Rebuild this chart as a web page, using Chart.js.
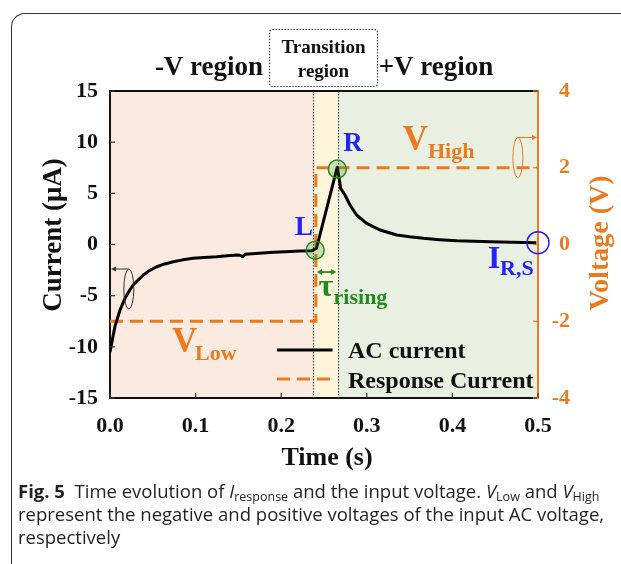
<!DOCTYPE html>
<html>
<head>
<meta charset="utf-8">
<script src="https://cdn.jsdelivr.net/npm/chart.js@4.4.1/dist/chart.umd.min.js"></script>
<style>
  html, body { margin: 0; padding: 0; background: #fff; }
  #wrap { position: relative; width: 621px; height: 564px; overflow: hidden; }
  #card { position: absolute; left: 11px; top: 13px; width: 700px; height: 700px;
          border-top: 1.5px solid #333; border-left: 1.5px solid #333; border-top-left-radius: 14px; }
  #chart { position: absolute; left: 0; top: 0; }
  #caption { position: absolute; left: 18px; top: 479px; width: 603px; white-space: nowrap;
             font-family: "Open Sans", "Noto Sans", sans-serif; font-size: 18.5px; line-height: 23px; color: #231f20; }
  #caption sub { font-size: 12.5px; line-height: 0; vertical-align: -3px; }
</style>
</head>
<body>
<div id="wrap">
  <div id="card"></div>
  <canvas id="chart" width="621" height="564"></canvas>
  <div id="caption"><b>Fig. 5</b>&nbsp; Time evolution of <i>I</i><sub>response</sub> and the input voltage. <i>V</i><sub>Low</sub> and <i>V</i><sub>High</sub><br>represent the negative and positive voltages of the input AC voltage,<br>respectively</div>
</div>
<script>
// AC current (time in s, current in uA)
const timeS = [0, 0.0058, 0.0117, 0.0175, 0.022, 0.027, 0.033, 0.039, 0.046, 0.0545, 0.064, 0.074, 0.085,
  0.097, 0.11, 0.1245, 0.137, 0.148, 0.152, 0.155, 0.158, 0.17, 0.191, 0.205, 0.222, 0.236,
  0.2412, 0.2655, 0.268, 0.2694, 0.2745, 0.2804, 0.288, 0.2998, 0.3154, 0.335, 0.35, 0.366,
  0.385, 0.405, 0.425, 0.444, 0.47, 0.498];
const currentUA = [-10.5, -8.0, -6.4, -5.26, -4.6, -3.96, -3.45, -2.98, -2.55, -2.17, -1.9, -1.68, -1.5,
  -1.35, -1.26, -1.19, -1.1, -1.03, -1.05, -1.18, -0.96, -0.88, -0.76, -0.7, -0.64, -0.6,
  -0.37, 7.55, 6.3, 5.49, 4.84, 3.86, 2.88, 2.07, 1.42, 0.93, 0.75, 0.6,
  0.47, 0.37, 0.32, 0.28, 0.23, 0.18];

// input voltage step (V)
const stepTime = [0, 0.2405, 0.2405, 0.5];
const stepVolt = [-2, -2, 2, 2];

// marked points L, R and I_R,S
const markTime = [0.2397, 0.2655];
const markCurrent = [-0.55, 7.37];
const endTime = [0.5];
const endCurrent = [0.18];

// region boundaries (s) and names
const regionBounds = [0, 0.2375, 0.266, 0.5];
const regionNames = ['-V region', 'Transition region', '+V region'];

// tick labels
const xTicks = [0, 0.1, 0.2, 0.3, 0.4, 0.5];
const yTicks = [-15, -10, -5, 0, 5, 10, 15];
const y1Ticks = [-4, -2, 0, 2, 4];

const ORANGE = '#EC7A1F';
const BLUE = '#2424F0';
const GREEN = '#1E8C1E';
const SERIF = '"Liberation Serif", "Times New Roman", serif';

function pts(xs, ys) { return xs.map((x, i) => ({ x: x, y: ys[i] })); }

const decorations = {
  id: 'decorations',
  beforeDraw(chart) {
    const { ctx, chartArea: a, scales: { x } } = chart;
    const fills = ['#FAEADF', '#FFF5DA', '#E9F0E1'];
    ctx.save();
    for (let i = 0; i < 3; i++) {
      const x0 = x.getPixelForValue(regionBounds[i]);
      const x1 = x.getPixelForValue(regionBounds[i + 1]);
      ctx.fillStyle = fills[i];
      ctx.fillRect(x0, a.top, x1 - x0, a.bottom - a.top);
    }
    ctx.restore();
  },
  beforeDatasetsDraw(chart) {
    const { ctx, chartArea: a, scales: { x } } = chart;
    ctx.save();
    ctx.strokeStyle = '#444';
    ctx.lineWidth = 1.2;
    ctx.setLineDash([1.5, 1.5]);
    [regionBounds[1], regionBounds[2]].forEach(t => {
      const px = Math.round(x.getPixelForValue(t)) + 0.5;
      ctx.beginPath();
      ctx.moveTo(px, a.top);
      ctx.lineTo(px, a.bottom);
      ctx.stroke();
    });
    ctx.restore();
  },
  afterDraw(chart) {
    const { ctx, chartArea: a, scales: { x, y, y1 } } = chart;
    const X = v => x.getPixelForValue(v);
    const Y = v => y.getPixelForValue(v);
    ctx.save();

    // top frame line
    ctx.strokeStyle = '#111';
    ctx.lineWidth = 2;
    ctx.beginPath();
    ctx.moveTo(a.left, a.top);
    ctx.lineTo(a.right, a.top);
    ctx.stroke();

    // inward ticks
    ctx.lineWidth = 1.2;
    ctx.strokeStyle = '#333';
    xTicks.forEach(t => {
      const px = X(t);
      ctx.beginPath(); ctx.moveTo(px, a.bottom); ctx.lineTo(px, a.bottom - 5); ctx.stroke();
    });
    yTicks.forEach(t => {
      const py = Y(t);
      ctx.beginPath(); ctx.moveTo(a.left, py); ctx.lineTo(a.left + 5, py); ctx.stroke();
    });
    ctx.strokeStyle = ORANGE;
    y1Ticks.forEach(t => {
      const py = y1.getPixelForValue(t);
      ctx.beginPath(); ctx.moveTo(a.right, py); ctx.lineTo(a.right - 5, py); ctx.stroke();
    });

    // right axis tick labels, right aligned
    ctx.fillStyle = ORANGE;
    ctx.font = 'bold 22px ' + SERIF;
    ctx.textAlign = 'right';
    ctx.textBaseline = 'middle';
    y1Ticks.forEach(t => {
      ctx.fillText(String(t), 570, y1.getPixelForValue(t));
    });

    // axis titles
    ctx.fillStyle = '#111';
    ctx.font = 'bold 27px ' + SERIF;
    ctx.textAlign = 'center';
    ctx.textBaseline = 'alphabetic';
    ctx.save();
    ctx.translate(61, 235);
    ctx.rotate(-Math.PI / 2);
    ctx.fillText('Current (\u03BCA)', 0, 0);
    ctx.restore();
    ctx.save();
    ctx.fillStyle = ORANGE;
    ctx.font = 'bold 28px ' + SERIF;
    ctx.translate(608, 243);
    ctx.rotate(-Math.PI / 2);
    ctx.fillText('Voltage (V)', 0, 0);
    ctx.restore();
    ctx.font = 'bold 26px ' + SERIF;
    ctx.fillText('Time (s)', (a.left + a.right) / 2 + 3, 465);

    // region labels above the plot
    ctx.font = 'bold 27px ' + SERIF;
    ctx.fillText(regionNames[0], 209, 75);
    ctx.fillText(regionNames[2], 436, 75);
    ctx.font = 'bold 19px ' + SERIF;
    const parts = regionNames[1].split(' ');
    ctx.fillText(parts[0], 323.5, 53);
    ctx.fillText(parts[1], 323.5, 77);
    ctx.strokeStyle = '#444';
    ctx.lineWidth = 1.2;
    ctx.setLineDash([1.5, 1.5]);
    ctx.beginPath();
    ctx.roundRect(269.5, 29.5, 108, 57, 3);
    ctx.stroke();
    ctx.setLineDash([]);

    // labelled text with subscript
    function sub(main, subTxt, tx, ty, color, big, small, stx, sty) {
      ctx.fillStyle = color;
      ctx.textAlign = 'left';
      ctx.font = 'bold ' + big + 'px ' + SERIF;
      ctx.fillText(main, X(tx), Y(ty));
      if (subTxt) {
        ctx.font = 'bold ' + small + 'px ' + SERIF;
        ctx.fillText(subTxt, X(stx), Y(sty));
      }
    }
    sub('R', '', 0.2725, 9.14, BLUE, 27);
    sub('L', '', 0.216, 0.93, BLUE, 27);
    sub('V', 'High', 0.342, 9.23, ORANGE, 35, 22, 0.3715, 8.45);
    sub('V', 'Low', 0.0724, -10.5, ORANGE, 35, 22, 0.0993, -11.25);
    sub('I', 'R,S', 0.4416, -2.3, BLUE, 32, 22, 0.4556, -2.95);
    sub('\u03C4', 'rising', 0.2435, -5.0, GREEN, 32, 22, 0.2612, -5.85);

    // tau double arrow
    const ay = Y(-2.69), ax0 = X(0.2405) + 1, ax1 = X(0.2655) - 1;
    ctx.strokeStyle = GREEN;
    ctx.fillStyle = GREEN;
    ctx.lineWidth = 1.8;
    ctx.beginPath(); ctx.moveTo(ax0 + 3, ay); ctx.lineTo(ax1 - 3, ay); ctx.stroke();
    ctx.beginPath(); ctx.moveTo(ax0, ay); ctx.lineTo(ax0 + 5, ay - 3); ctx.lineTo(ax0 + 5, ay + 3); ctx.fill();
    ctx.beginPath(); ctx.moveTo(ax1, ay); ctx.lineTo(ax1 - 5, ay - 3); ctx.lineTo(ax1 - 5, ay + 3); ctx.fill();

    // axis indicator ellipses
    function indicator(cx, cy, toX, color, dir) {
      ctx.strokeStyle = color;
      ctx.fillStyle = color;
      ctx.lineWidth = 1;
      ctx.beginPath(); ctx.ellipse(cx, cy, 5, 20, 0, 0, Math.PI * 2); ctx.stroke();
      ctx.beginPath(); ctx.moveTo(cx, cy - 20); ctx.lineTo(toX - dir * 4, cy - 20); ctx.stroke();
      ctx.beginPath();
      ctx.moveTo(toX, cy - 20);
      ctx.lineTo(toX - dir * 5, cy - 22.5);
      ctx.lineTo(toX - dir * 5, cy - 17.5);
      ctx.fill();
    }
    indicator(X(0.022), Y(-4.35), a.left + 1, '#333', -1);
    indicator(X(0.4765), Y(8.5), a.right - 1, ORANGE, 1);

    // legend
    const lg = [
      { label: chart.data.datasets[2].label, color: '#000', dash: [], ly: -10.3, ty: -11.1 },
      { label: chart.data.datasets[3].label, color: ORANGE, dash: [13, 7], ly: -13.14, ty: -14.0 }
    ];
    lg.forEach(item => {
      ctx.strokeStyle = item.color;
      ctx.lineWidth = 3;
      ctx.setLineDash(item.dash);
      ctx.beginPath(); ctx.moveTo(X(0.195), Y(item.ly)); ctx.lineTo(X(0.26), Y(item.ly)); ctx.stroke();
      ctx.setLineDash([]);
      ctx.fillStyle = '#111';
      ctx.font = 'bold 24px ' + SERIF;
      ctx.textAlign = 'left';
      ctx.fillText(item.label, X(0.278), Y(item.ty));
    });
    ctx.restore();
  }
};

const tickFont = { family: SERIF, size: 22, weight: 'bold' };

new Chart(document.getElementById('chart'), {
  type: 'line',
  data: {
    datasets: [
      {
        label: 'L, R',
        data: pts(markTime, markCurrent),
        showLine: false,
        pointRadius: 9,
        pointBorderWidth: 1.5,
        pointBorderColor: GREEN,
        pointBackgroundColor: 'rgba(30,140,30,0.22)'
      },
      {
        label: 'I_R,S',
        data: pts(endTime, endCurrent),
        showLine: false,
        clip: false,
        pointRadius: 11,
        pointBorderWidth: 1.5,
        pointBorderColor: BLUE,
        pointBackgroundColor: 'rgba(0,0,0,0)'
      },
      {
        label: 'AC current',
        data: pts(timeS, currentUA),
        borderColor: '#000',
        borderWidth: 3,
        pointRadius: 0,
        tension: 0,
        borderJoinStyle: 'round'
      },
      {
        label: 'Response Current',
        data: pts(stepTime, stepVolt),
        yAxisID: 'y1',
        borderColor: ORANGE,
        borderWidth: 3,
        borderDash: [13, 7],
        pointRadius: 0,
        tension: 0
      }
    ]
  },
  options: {
    responsive: false,
    animation: false,
    layout: { padding: { left: 0, right: 0, top: 91, bottom: 0 } },
    plugins: { legend: { display: false }, tooltip: { enabled: false } },
    scales: {
      x: {
        type: 'linear', min: 0, max: 0.5,
        grid: { display: false, drawTicks: false },
        border: { color: '#111', width: 2 },
        ticks: { stepSize: 0.1, padding: 15, color: '#111', font: tickFont, maxRotation: 0,
                 callback: v => Number(v).toFixed(1) },
        afterFit: s => { s.height = 166; }
      },
      y: {
        position: 'left', min: -15, max: 15,
        grid: { display: false, drawTicks: false },
        border: { color: '#111', width: 2 },
        ticks: { stepSize: 5, padding: 12, color: '#111', font: tickFont },
        afterFit: s => { s.width = 110; }
      },
      y1: {
        position: 'right', min: -4, max: 4,
        grid: { display: false, drawTicks: false },
        border: { color: ORANGE, width: 2 },
        ticks: { stepSize: 2, display: false },
        afterFit: s => { s.width = 83; }
      }
    }
  },
  plugins: [decorations]
});
</script>
</body>
</html>
